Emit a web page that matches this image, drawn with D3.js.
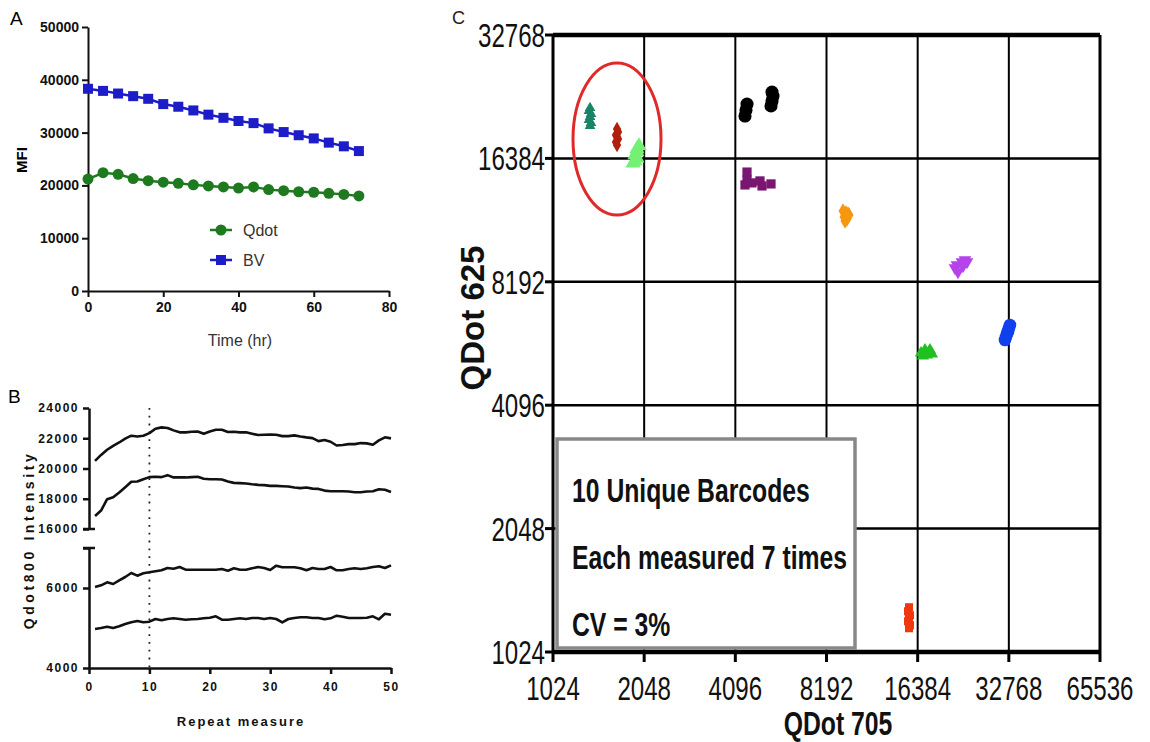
<!DOCTYPE html>
<html><head><meta charset="utf-8">
<script src="https://cdn.jsdelivr.net/npm/d3@7"></script>
<style>body{margin:0;background:#fff} svg{display:block;font-family:"Liberation Sans",Arial,sans-serif}</style>
</head><body><svg id="c" width="1150" height="742"></svg>
<script>
// ---------- DATA ----------
// Panel A
const aTime = [0,4,8,12,16,20,24,28,32,36,40,44,48,52,56,60,64,68,72];
const aQdot = [21200,22400,22100,21300,20900,20600,20400,20100,19900,19700,19500,19700,19200,19000,18800,18700,18500,18300,18000];
const aBV   = [38300,37900,37400,36900,36400,35400,34900,34200,33400,32800,32200,31800,30800,30100,29500,28900,28100,27400,26500];
const aXTicks = [0,20,40,60,80];
const aYTicks = [0,10000,20000,30000,40000,50000];
// Panel B (repeat measure 1..50)
const bS1 = [20500,20900,21240,21500,21720,21970,22170,22120,22170,22340,22630,22720,22680,22520,22390,22390,22430,22450,22300,22450,22560,22560,22410,22430,22390,22390,22300,22210,22230,22250,22230,22140,22140,22190,22120,22060,22010,21810,21880,21770,21520,21550,21610,21610,21680,21660,21570,21860,22060,21990];
const bS2 = [16860,17220,17970,18100,18410,18760,19120,19140,19290,19430,19450,19430,19560,19410,19410,19410,19430,19450,19320,19290,19290,19270,19140,19050,19030,19010,18960,18920,18900,18850,18850,18830,18810,18740,18700,18740,18670,18650,18540,18500,18500,18500,18480,18430,18430,18480,18500,18630,18590,18450];
const bS3 = [6025,6067,6142,6100,6192,6275,6375,6308,6367,6392,6417,6442,6500,6483,6525,6458,6458,6458,6458,6458,6458,6475,6433,6492,6458,6458,6492,6525,6500,6450,6558,6517,6517,6517,6492,6442,6500,6475,6475,6525,6442,6442,6475,6492,6475,6492,6525,6542,6500,6567];
const bS4 = [4975,5000,5033,5000,5042,5100,5142,5175,5142,5158,5225,5192,5225,5242,5225,5208,5217,5225,5242,5258,5292,5208,5208,5225,5242,5225,5250,5250,5225,5250,5225,5142,5225,5250,5267,5267,5250,5250,5217,5242,5308,5283,5250,5250,5250,5258,5292,5217,5358,5333];
const bXTicks = [0,10,20,30,40,50];
const bTopTicks = [16000,18000,20000,22000,24000];
const bBotTicks = [4000,6000,7000];
const bBotLabels = [4000,6000];
// Panel C : [QDot705, QDot625] for each barcode, 7 measurements
const cTeal   = [[1357,21750],[1346,21385],[1367,21027],[1357,20676],[1346,20330],[1367,19991],[1357,19657]];
const cDkRed  = [[1666,19327],[1679,19005],[1653,18685],[1666,18478],[1679,18272],[1653,17967],[1666,17666]];
const cLtGreen= [[1969,17568],[1939,17274],[1939,16987],[1910,16702],[1939,16421],[1910,16146],[1882,15963]];
const cBlack  = [[4476,22236],[4442,21505],[4408,20791],[5413,23786],[5454,23259],[5413,22617],[5372,21994]];
const cPurple = [[4476,15174],[4476,14518],[4649,14277],[4408,14115],[4941,14437],[5017,14035],[5372,14196]];
const cOrange = [[9288,12190],[9502,12053],[9721,11918],[9359,11785],[9575,11653],[9430,11523],[9648,11985]];
const cViolet = [[21757,8854],[22091,9005],[22948,9159],[23477,9263],[22260,8657],[23122,8955],[23840,9159]];
const cGreen  = [[16800,5491],[17320,5585],[17857,5522],[18267,5460],[17058,5398],[17586,5429],[17993,5585]];
const cBlue   = [[33053,6427],[32805,6320],[32557,6214],[32311,6111],[32067,6009],[31825,5909],[32557,6180]];
const cRed    = [[15340,1317],[15223,1287],[15457,1259],[15340,1238],[15223,1217],[15457,1190],[15340,1170]];
const cTicks = [1024,2048,4096,8192,16384,32768,65536];
const cYTicks = [1024,2048,4096,8192,16384,32768];
const cCircleCenter = [1666,18272];
const boxLines = ["10 Unique Barcodes","Each measured 7 times","CV = 3%"];

// ---------- DRAW ----------
const svg = d3.select('#c');
// condensed text helper (no narrow font installed)
function ntext(x,y,str,size,weight,anchor,sx){
  return svg.append('text').attr('transform',`translate(${x},${y}) scale(${sx||0.8},1)`)
    .attr('text-anchor',anchor||'start').attr('font-size',size).attr('font-weight',weight||'normal')
    .attr('fill','#111').text(str);
}

// ===== Panel A =====
const ax = d3.scaleLinear().domain([0,80]).range([88,389]);
const ay = d3.scaleLinear().domain([0,50000]).range([291,27]);
svg.append('text').attr('x',10).attr('y',25).attr('font-size',19).text('A');
const gAx = svg.append('g').attr('transform','translate(0,291)')
  .call(d3.axisBottom(ax).tickValues(aXTicks).tickSize(6).tickSizeOuter(0).tickPadding(5));
const gAy = svg.append('g').attr('transform','translate(88,0)')
  .call(d3.axisLeft(ay).tickValues(aYTicks).tickSize(6).tickSizeOuter(0).tickPadding(3).tickFormat(d3.format('d')));
[gAx,gAy].forEach(g=>{
  g.selectAll('path,line').attr('stroke','#111').attr('stroke-width',2);
  g.selectAll('text').attr('font-size',14).attr('font-weight','bold').attr('fill','#111').attr('font-family','inherit');
});
svg.append('text').attr('transform','translate(27,160) rotate(-90)').attr('text-anchor','middle')
  .attr('font-size',15).attr('font-weight','bold').text('MFI');
svg.append('text').attr('x',240).attr('y',346).attr('text-anchor','middle').attr('font-size',16).attr('fill','#333').text('Time (hr)');
const green='#1f7a1f', blue='#1c1cc8';
const lineA = (vals)=>d3.line().x((d,i)=>ax(aTime[i])).y(d=>ay(d))(vals);
svg.append('path').attr('d',lineA(aBV)).attr('fill','none').attr('stroke',blue).attr('stroke-width',2.5);
svg.append('path').attr('d',lineA(aQdot)).attr('fill','none').attr('stroke',green).attr('stroke-width',2.5);
svg.selectAll('.bvm').data(aBV).enter().append('rect')
  .attr('x',(d,i)=>ax(aTime[i])-5).attr('y',d=>ay(d)-5).attr('width',10).attr('height',10).attr('fill',blue);
svg.selectAll('.qm').data(aQdot).enter().append('circle')
  .attr('cx',(d,i)=>ax(aTime[i])).attr('cy',d=>ay(d)).attr('r',5.5).attr('fill',green);
// legend
svg.append('line').attr('x1',210).attr('x2',232).attr('y1',230).attr('y2',230).attr('stroke',green).attr('stroke-width',2.5);
svg.append('circle').attr('cx',221).attr('cy',230).attr('r',5.5).attr('fill',green);
svg.append('text').attr('x',243).attr('y',236).attr('font-size',16).attr('fill','#333').text('Qdot');
svg.append('line').attr('x1',210).attr('x2',232).attr('y1',260).attr('y2',260).attr('stroke',blue).attr('stroke-width',2.5);
svg.append('rect').attr('x',216).attr('y',255).attr('width',10).attr('height',10).attr('fill',blue);
svg.append('text').attr('x',243).attr('y',266).attr('font-size',16).attr('fill','#333').text('BV');

// ===== Panel B =====
const bx = d3.scaleLinear().domain([0,50]).range([89,391]);
const byT = d3.scaleLinear().domain([16000,24000]).range([529,408]);
const byB = d3.scaleLinear().domain([4000,7000]).range([668,548]);
svg.append('text').attr('x',8).attr('y',403).attr('font-size',19).text('B');
const bStyle = g=>{
  g.selectAll('path,line').attr('stroke','#111').attr('stroke-width',2.5);
  g.selectAll('text').attr('font-size',12).attr('font-weight','bold').attr('fill','#111')
    .attr('letter-spacing',1.5).attr('font-family','inherit');
};
const gBx = svg.append('g').attr('transform','translate(0,668)')
  .call(d3.axisBottom(bx).tickValues(bXTicks).tickSize(6).tickSizeOuter(0).tickPadding(8));
bStyle(gBx);
const gByT = svg.append('g').attr('transform','translate(89,0)')
  .call(d3.axisLeft(byT).tickValues(bTopTicks).tickSize(6).tickSizeOuter(0).tickPadding(4).tickFormat(d3.format('d')));
bStyle(gByT);
const gByB = svg.append('g').attr('transform','translate(89,0)')
  .call(d3.axisLeft(byB).tickValues(bBotTicks).tickSize(6).tickSizeOuter(0).tickPadding(4)
    .tickFormat(d=>bBotLabels.includes(d)?d3.format('d')(d):''));
bStyle(gByB);
// break caps
svg.append('line').attr('x1',83).attr('x2',95).attr('y1',byT(16000)).attr('y2',byT(16000)).attr('stroke','#111').attr('stroke-width',2.5);
svg.append('line').attr('x1',83).attr('x2',95).attr('y1',byB(7000)).attr('y2',byB(7000)).attr('stroke','#111').attr('stroke-width',2.5);
svg.append('line').attr('x1',bx(10)).attr('x2',bx(10)).attr('y1',byT(24000)).attr('y2',byB(4000))
  .attr('stroke','#222').attr('stroke-width',1.8).attr('stroke-dasharray','1.8,6');
const idx = d3.range(1,51);
const lineB = (vals,sc)=>d3.line().x((d,i)=>bx(idx[i])).y(d=>sc(d))(vals);
[[bS1,byT],[bS2,byT],[bS3,byB],[bS4,byB]].forEach(([v,sc])=>{
  svg.append('path').attr('d',lineB(v,sc)).attr('fill','none').attr('stroke','#111').attr('stroke-width',2.6).attr('stroke-linejoin','round');
});
svg.append('text').attr('transform','translate(34,540) rotate(-90)').attr('text-anchor','middle')
  .attr('font-size',14).attr('font-weight','bold').attr('letter-spacing',3.6).attr('fill','#111').text('Qdot800 Intensity');
svg.append('text').attr('x',241).attr('y',726).attr('text-anchor','middle')
  .attr('font-size',13).attr('font-weight','bold').attr('letter-spacing',2).attr('fill','#111').text('Repeat measure');

// ===== Panel C =====
const cx = d3.scaleLog().base(2).domain([1024,65536]).range([553,1100]);
const cy = d3.scaleLog().base(2).domain([1024,32768]).range([652,35]);
svg.append('text').attr('x',452).attr('y',24).attr('font-size',18).attr('fill','#222').text('C');
// grid
cYTicks.forEach(v=>{
  const edge = (v===1024||v===32768);
  svg.append('line').attr('x1',cx(1024)).attr('x2',cx(65536)).attr('y1',cy(v)).attr('y2',cy(v))
    .attr('stroke','#000').attr('stroke-width',edge?4.5:2.5);
  svg.append('line').attr('x1',cx(1024)-8).attr('x2',cx(1024)).attr('y1',cy(v)).attr('y2',cy(v))
    .attr('stroke','#000').attr('stroke-width',3);
  ntext(cx(1024)-8, cy(v)+12, v, 33, 'normal', 'end', 0.73);
});
cTicks.forEach(v=>{
  const edge = (v===1024||v===65536);
  svg.append('line').attr('x1',cx(v)).attr('x2',cx(v)).attr('y1',cy(32768)).attr('y2',cy(1024))
    .attr('stroke','#000').attr('stroke-width',edge?3:2);
  svg.append('line').attr('x1',cx(v)).attr('x2',cx(v)).attr('y1',cy(1024)).attr('y2',cy(1024)+10)
    .attr('stroke','#000').attr('stroke-width',3);
  ntext(cx(v), 700, v, 33, 'normal', 'middle', 0.73);
});
ntext(838, 735, 'QDot 705', 33, 'bold', 'middle', 0.75);
svg.append('text').attr('transform','translate(484,318) rotate(-90)').attr('text-anchor','middle')
  .attr('font-weight','bold').attr('font-size',33).attr('fill','#111').text('QDot 625');
// ellipse
svg.append('ellipse').attr('cx',cx(cCircleCenter[0])).attr('cy',cy(cCircleCenter[1])).attr('rx',44).attr('ry',76)
  .attr('fill','none').attr('stroke','#e02a2a').attr('stroke-width',3);
// clusters
const clusters = [
  {d:cTeal,   c:'#1a8468', t:d3.symbolTriangle, s:50, r:0},
  {d:cDkRed,  c:'#b0200f', t:d3.symbolDiamond,  s:60, r:0},
  {d:cLtGreen,c:'#74f074', t:d3.symbolTriangle, s:100,r:0},
  {d:cBlack,  c:'#000000', t:d3.symbolCircle,   s:135,r:0},
  {d:cPurple, c:'#7a1672', t:d3.symbolSquare,   s:85, r:0},
  {d:cOrange, c:'#f5980f', t:d3.symbolDiamond,  s:70, r:0},
  {d:cViolet, c:'#b444ea', t:d3.symbolTriangle, s:70, r:180},
  {d:cGreen,  c:'#20c020', t:d3.symbolTriangle, s:65, r:0},
  {d:cBlue,   c:'#1040ee', t:d3.symbolCircle,   s:125,r:0},
  {d:cRed,    c:'#f0380f', t:d3.symbolSquare,   s:64, r:0}
];
clusters.forEach(k=>{
  svg.append('g').selectAll('path').data(k.d).enter().append('path')
    .attr('d',d3.symbol().type(k.t).size(k.s))
    .attr('transform',d=>`translate(${cx(d[0])},${cy(d[1])}) rotate(${k.r})`)
    .attr('fill',k.c);
});
// text box
svg.append('rect').attr('x',557).attr('y',439).attr('width',298).attr('height',209)
  .attr('fill','#fff').attr('stroke','#888').attr('stroke-width',3.5);
boxLines.forEach((t,i)=>{
  ntext(572, [502,569,636][i], t, 33, 'bold', 'start', 0.75);
});
</script></body></html>
